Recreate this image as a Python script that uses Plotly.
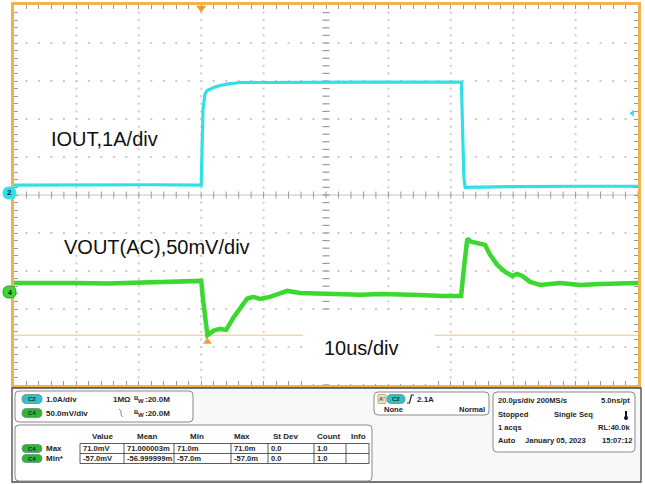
import numpy as np
import plotly.graph_objects as go

W, H = 645, 484

# ---------------- data (read from the screen) ----------------
# time axis in microseconds relative to trigger, 20 us/div, 10 divisions
X_RANGE = [-60, 140]
TIME_PER_DIV = 20
Y_DIVS = 5  # +/- 5 vertical divisions

# Channel 2: IOUT, 1 A/div
IOUT_POS_DIV = 0.05
IOUT_SCALE = 1.0
T_IOUT = [-60, -45, -30, -15, 0, 0.26, 0.58, 1.2, 1.9, 3.0, 4.0, 6.0, 8.3, 12.5,
          30, 50, 70, 83.4, 83.8, 84.2, 84.6, 90, 100, 120, 140]
I_IOUT = [0.21, 0.22, 0.21, 0.22, 0.21, 0.9, 2.2, 2.6, 2.70, 2.74, 2.78, 2.83, 2.87, 2.91,
          2.92, 2.92, 2.92, 2.92, 1.6, 0.4, 0.15, 0.16, 0.17, 0.18, 0.18]

# Channel 4: VOUT (AC), 50 mV/div
VOUT_POS_DIV = -2.55
VOUT_SCALE = 50.0
T_VOUT = [-60, -50, -40, -30, -20, -10, -2, 0, 0.6, 1.3, 2.0, 3.0, 4.0, 6.0, 8.0, 10.3,
          12.5, 14.7, 16.7, 18.9, 22, 25, 27.6, 31.7, 38, 45, 51, 58, 64, 70, 77, 83.3,
          84.3, 85.3, 86.5, 89.4, 91, 92.6, 94.9, 97.4, 99.7, 101.3, 102.9, 105.4, 108.7,
          115, 121.5, 128, 140]
V_VOUT = [11.8, 12.5, 11.8, 11.2, 12.5, 13.2, 14.5, 14.5, -10.5, -40, -57, -54, -51, -48.7,
          -50, -34, -21, -9, -6.6, -9.2, -6.6, -3, 1.3, -1.3, -2.6, -3.9, -3.9, -2.6, -2.6,
          -4, -5.3, -5.3, 35, 70, 66, 63.2, 61.8, 48.7, 35.5, 26.3, 21, 23.7, 21, 13.2, 9.2,
          11.8, 9.2, 10.5, 11.8]

TRIG_LEVEL_A = 2.1
VOUT_MIN_MV = -57.0
T_AT_MIN = 2.0

# measurement table
MEAS_COLS = ["Value", "Mean", "Min", "Max", "St Dev", "Count", "Info"]
MEAS_ROWS = ["Max", "Min*"]
MEAS_DATA = [["71.0mV", "71.000003m", "71.0m", "71.0m", "0.0", "1.0", ""],
             ["-57.0mV", "-56.999999m", "-57.0m", "-57.0m", "0.0", "1.0", ""]]

CYAN = "#2fe0e6"
GREEN = "#3bd82f"
ORANGE = "#f2b24e"
TICKC = "#9a9a9a"
GRIDC = "#cbcbcb"
FONT = "Liberation Sans, Arial, sans-serif"


def X(x):
    return x / W


def Y(y):
    return 1 - y / H


def to_div(vals, pos, scale):
    return pos + np.asarray(vals, dtype=float) / scale


fig = go.Figure()

# dotted graticule (dots every 1/5 division along each grid line)
minor_t = np.arange(X_RANGE[0], X_RANGE[1] + 0.01, TIME_PER_DIV / 5)
minor_y = np.arange(-Y_DIVS, Y_DIVS + 0.01, 0.2)
major_t = np.arange(X_RANGE[0] + TIME_PER_DIV, X_RANGE[1] - 0.01, TIME_PER_DIV)
major_y = np.arange(-Y_DIVS + 1, Y_DIVS - 0.01, 1)
xc = (X_RANGE[0] + X_RANGE[1]) / 2
gx, gy = [], []
for yy in major_y:
    if abs(yy) < 1e-9:
        continue
    gx.extend(minor_t[1:-1]); gy.extend([yy] * (len(minor_t) - 2))
for tt in major_t:
    if abs(tt - xc) < 1e-9:
        continue
    gx.extend([tt] * (len(minor_y) - 2)); gy.extend(minor_y[1:-1])
fig.add_trace(go.Scatter(x=gx, y=gy, mode="markers",
                         marker=dict(symbol="square", size=2, color=GRIDC, line=dict(width=0)),
                         hoverinfo="skip", showlegend=False))

# center crosshair tick marks
fig.add_trace(go.Scatter(x=minor_t, y=np.zeros_like(minor_t), mode="markers",
                         marker=dict(symbol="line-ns-open", size=5, color=TICKC,
                                     line=dict(color=TICKC, width=1)),
                         hoverinfo="skip", showlegend=False))
fig.add_trace(go.Scatter(x=np.full_like(minor_y, xc), y=minor_y, mode="markers",
                         marker=dict(symbol="line-ew-open", size=5, color=TICKC,
                                     line=dict(color=TICKC, width=1.2)),
                         hoverinfo="skip", showlegend=False))

# waveforms
fig.add_trace(go.Scatter(x=T_IOUT, y=to_div(I_IOUT, IOUT_POS_DIV, IOUT_SCALE), mode="lines",
                         line=dict(color=CYAN, width=3.2), hoverinfo="skip", showlegend=False))
fig.add_trace(go.Scatter(x=T_VOUT, y=to_div(V_VOUT, VOUT_POS_DIV, VOUT_SCALE), mode="lines",
                         line=dict(color=GREEN, width=4.5), hoverinfo="skip", showlegend=False))

# markers: trigger position, min position, trigger level
fig.add_trace(go.Scatter(x=[0], y=[Y_DIVS - 0.08], mode="markers", cliponaxis=False,
                         marker=dict(symbol="triangle-down", size=9, color="#f0a030"),
                         hoverinfo="skip", showlegend=False))
fig.add_trace(go.Scatter(x=[T_AT_MIN], y=[VOUT_POS_DIV + VOUT_MIN_MV / VOUT_SCALE - 0.17],
                         mode="markers", cliponaxis=False,
                         marker=dict(symbol="triangle-up", size=8, color="#f0a030"),
                         hoverinfo="skip", showlegend=False))
fig.add_trace(go.Scatter(x=[X_RANGE[1] - 1.8], y=[IOUT_POS_DIV + TRIG_LEVEL_A / IOUT_SCALE],
                         mode="markers", cliponaxis=False,
                         marker=dict(symbol="triangle-left", size=6, color=CYAN),
                         hoverinfo="skip", showlegend=False))

shapes = []
annotations = []

# center horizontal line
shapes.append(dict(type="line", xref="x", yref="y", x0=X_RANGE[0], x1=X_RANGE[1], y0=0, y1=0,
                   line=dict(color="#c4c4c4", width=1), layer="between"))
# min level line (orange)
ymin_div = VOUT_POS_DIV + VOUT_MIN_MV / VOUT_SCALE
shapes.append(dict(type="line", xref="x", yref="y", x0=X_RANGE[0], x1=X_RANGE[1], y0=ymin_div, y1=ymin_div,
                   line=dict(color="#f5c27a", width=1), layer="between"))
# white label box over line
shapes.append(dict(type="rect", xref="paper", yref="paper", x0=X(303), x1=X(435), y0=Y(384), y1=Y(314),
                   fillcolor="white", line=dict(width=0), layer="above"))


def rrect(x0, y0, x1, y1, r, fill="white", line="#8a8a8a", lw=1):
    p = (f"M {X(x0+r)},{Y(y0)} L {X(x1-r)},{Y(y0)} Q {X(x1)},{Y(y0)} {X(x1)},{Y(y0+r)} "
         f"L {X(x1)},{Y(y1-r)} Q {X(x1)},{Y(y1)} {X(x1-r)},{Y(y1)} L {X(x0+r)},{Y(y1)} "
         f"Q {X(x0)},{Y(y1)} {X(x0)},{Y(y1-r)} L {X(x0)},{Y(y0+r)} Q {X(x0)},{Y(y0)} {X(x0+r)},{Y(y0)} Z")
    shapes.append(dict(type="path", xref="paper", yref="paper", path=p, fillcolor=fill,
                       line=dict(color=line, width=lw), layer="above"))


def pline(pts, color="#222", lw=1):
    p = "M " + " L ".join(f"{X(a)},{Y(b)}" for a, b in pts)
    shapes.append(dict(type="path", xref="paper", yref="paper", path=p,
                       line=dict(color=color, width=lw), layer="above"))


def txt(x, y, s, size=8, anchor="left", color="#262626", bold=True, fam=FONT):
    annotations.append(dict(x=X(x), y=Y(y), xref="paper", yref="paper", text=s, showarrow=False,
                            xanchor=anchor, yanchor="middle", borderpad=0,
                            font=dict(family=fam, size=size, color=color,
                                      weight="bold" if bold else "normal")))


def badge(x0, y0, x1, y1, fill, label):
    rrect(x0, y0, x1, y1, (y1 - y0) / 2, fill=fill, line="#6a8a8a", lw=0.8)
    txt((x0 + x1) / 2, (y0 + y1) / 2, label, size=6, anchor="center", color="#10302f")


def bw(x, y):
    txt(x, y - 1, "B", size=6)
    txt(x + 4, y + 1.5, "W", size=6)
    txt(x + 11, y, ":20.0M")


# channel markers left
rrect(3, 187, 16, 199, 6, fill=CYAN, line=CYAN)
txt(9.5, 193, "2", size=8, anchor="center", color="#114")
rrect(3, 286, 16, 298, 6, fill=GREEN, line="#2a9a2a")
txt(9.5, 292, "4", size=7, anchor="center", color="#113")

# big labels
txt(50, 139, "IOUT,1A/div", size=20, color="#111", bold=False)
txt(63, 247, "VOUT(AC),50mV/div", size=20, color="#111", bold=False)
txt(323, 348, "10us/div", size=20, color="#111", bold=False)

# ---------- bottom panel ----------
shapes.append(dict(type="rect", xref="paper", yref="paper", x0=X(12), x1=X(641), y0=Y(482), y1=Y(388),
                   fillcolor="#f8f8f8", line=dict(color="#4a4a4a", width=1.3), layer="above"))

# channel box
rrect(15, 391, 193, 422, 4)
badge(22, 394.5, 42, 403.5, "#32c0cc", "C2")
txt(45, 399, "1.0A/div")
txt(112, 399, "1MΩ")
bw(133, 399)
badge(22, 408.5, 42, 417.5, "#2fb52f", "C4")
txt(45, 413, "50.0mV/div")
pline([(119, 409), (121, 411), (121, 415), (123, 417)], color="#888", lw=1)
bw(133, 413)

# measurement box
rrect(15, 425, 372, 481, 4)
col_edges = [80, 124, 174, 231, 268, 314, 346, 369]
head_x = [102, 147, 197, 242, 285, 328, 358]
for cx, name in zip(head_x, MEAS_COLS):
    txt(cx, 436, name, anchor="center")
for yy in [443.5, 453.5, 463.5]:
    shapes.append(dict(type="line", xref="paper", yref="paper", x0=X(col_edges[0]), x1=X(col_edges[-1]),
                       y0=Y(yy), y1=Y(yy), line=dict(color="#333", width=0.8), layer="above"))
for xx in col_edges:
    shapes.append(dict(type="line", xref="paper", yref="paper", x0=X(xx), x1=X(xx),
                       y0=Y(443.5), y1=Y(463.5), line=dict(color="#333", width=0.8), layer="above"))
row_y = [448.5, 458.5]
for ry, rname, rdata in zip(row_y, MEAS_ROWS, MEAS_DATA):
    badge(22, ry - 4, 42, ry + 4, "#2fb52f", "C4")
    txt(45, ry, rname)
    for xx, val in zip(col_edges[:-1], rdata):
        if val:
            txt(xx + 2, ry, val, size=7.6)

# trigger box
rrect(374, 392, 489, 415, 4)
rrect(378, 394.5, 386, 403.5, 1, fill="#efe0c0", line="#a08050", lw=0.6)
txt(382, 399, "A'", size=6, anchor="center", color="#553")
badge(387, 394.5, 405, 403.5, "#32c0cc", "C2")
pline([(407, 403), (409.5, 403), (411.5, 395), (414, 395)], color="#222", lw=1.2)
txt(416, 399, "2.1A")
txt(383, 409, "None", size=7.6)
txt(486, 409, "Normal", size=7.6, anchor="right")

# timebase box
rrect(493, 392, 635, 452, 4)
txt(497, 400, "20.0µs/div 200MS/s", size=7.6)
txt(631, 400, "5.0ns/pt", size=7.6, anchor="right")
txt(497, 414, "Stopped", size=7.6)
txt(553, 414, "Single Seq", size=7.6)
shapes.append(dict(type="line", xref="paper", yref="paper", x0=X(626), x1=X(626), y0=Y(411), y1=Y(418),
                   line=dict(color="#111", width=2), layer="above"))
shapes.append(dict(type="circle", xref="paper", yref="paper", x0=X(624), x1=X(628), y0=Y(420), y1=Y(416),
                   fillcolor="#111", line=dict(color="#111", width=0), layer="above"))
txt(497, 427, "1 acqs", size=7.6)
txt(631, 427, "RL:40.0k", size=7.6, anchor="right")
txt(497, 440, "Auto", size=7.6)
txt(524, 440, "January 05, 2023", size=7.6)
txt(633, 440, "15:07:12", size=7.6, anchor="right")

fig.update_layout(
    width=W, height=H, margin=dict(l=0, r=0, t=0, b=0),
    paper_bgcolor="white", plot_bgcolor="white",
    showlegend=False, shapes=shapes, annotations=annotations,
    xaxis=dict(domain=[X(14), X(638)], range=X_RANGE, dtick=TIME_PER_DIV, tick0=X_RANGE[0],
               showticklabels=False, showgrid=False, zeroline=False,
               showline=True, linecolor=ORANGE, linewidth=2.5,
               mirror="ticks", ticks="inside", ticklen=4, tickcolor=TICKC, tickwidth=1,
               minor=dict(dtick=TIME_PER_DIV / 5, ticks="inside", ticklen=4, tickcolor=TICKC,
                          showgrid=False)),
    yaxis=dict(domain=[Y(385), Y(5)], range=[-Y_DIVS, Y_DIVS], dtick=1, tick0=0,
               showticklabels=False, showgrid=False, zeroline=False,
               showline=True, linecolor=ORANGE, linewidth=2.5,
               mirror="ticks", ticks="inside", ticklen=4, tickcolor=TICKC, tickwidth=1,
               minor=dict(dtick=0.2, ticks="inside", ticklen=4, tickcolor=TICKC, showgrid=False)),
)

fig.write_html("out.html")
